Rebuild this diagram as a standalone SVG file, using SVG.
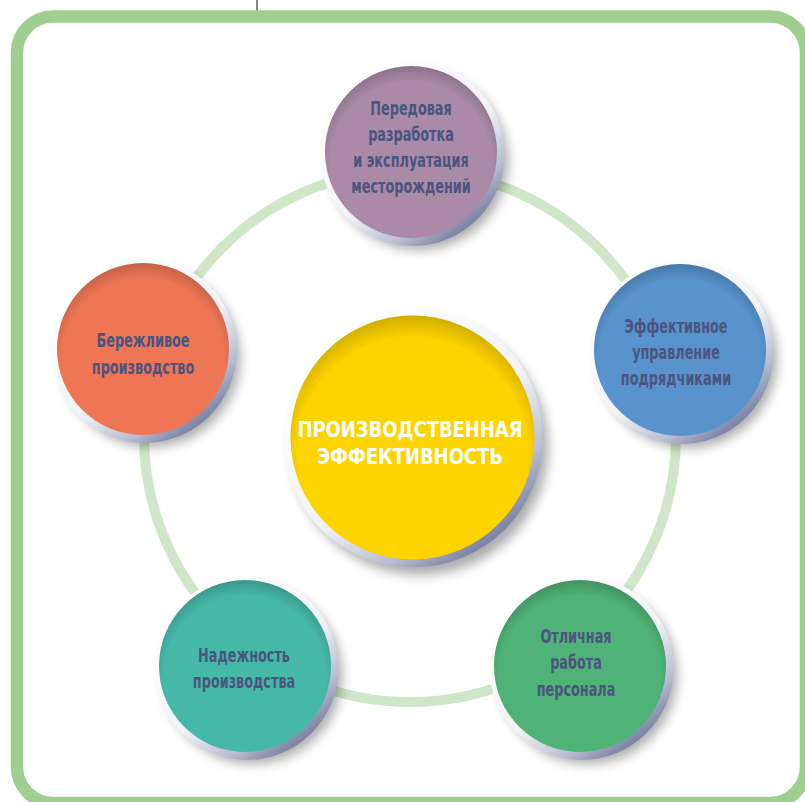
<svg xmlns="http://www.w3.org/2000/svg" width="805" height="802" viewBox="0 0 805 802">
  <defs>
    <linearGradient id="rim" x1="0.15" y1="0.1" x2="0.8" y2="0.95">
      <stop offset="0" stop-color="#ffffff"/>
      <stop offset="0.55" stop-color="#f2f3f7"/>
      <stop offset="0.8" stop-color="#b9bed2"/>
      <stop offset="1" stop-color="#6c7498"/>
    </linearGradient>
    <radialGradient id="inner" cx="0.5" cy="0.56" r="0.56">
      <stop offset="0.84" stop-color="#000" stop-opacity="0"/>
      <stop offset="1" stop-color="#000" stop-opacity="0.18"/>
    </radialGradient>
    <filter id="blur" x="-30%" y="-30%" width="160%" height="160%">
      <feGaussianBlur stdDeviation="6"/>
    </filter>
    <style>
      .frame { fill: #ffffff; stroke: #9ecf90; stroke-width: 12.5; }
      .ring { fill: none; stroke: #cfe7c8; stroke-width: 10; }
      .shadow { fill: #000; opacity: 0.33; filter: url(#blur); }
      .rim { fill: url(#rim); }
      .shade { fill: url(#inner); }
      .lbl { font-family: "DejaVu Sans Condensed", "DejaVu Sans", sans-serif; font-stretch: condensed; font-weight: bold; font-size: 19px; fill: #4b5580; text-anchor: middle; }
      .center { font-family: "DejaVu Sans Condensed", "DejaVu Sans", sans-serif; font-stretch: condensed; font-weight: bold; font-size: 21px; fill: #ffffff; text-anchor: middle; }
    </style>
  </defs>

  <line x1="257" y1="0" x2="257" y2="11" stroke="#333" stroke-width="1.2"/>
  <rect class="frame" x="17" y="16.5" width="789" height="786.5" rx="36" ry="36"/>

  <g id="connectors">
    <circle class="ring" cx="410" cy="436" r="266"/>
  </g>

  <g id="node-center">
    <circle class="shadow" cx="420" cy="447" r="128"/>
    <circle class="rim" cx="413" cy="437.5" r="130"/>
    <circle cx="412.5" cy="437.5" r="122" fill="#fdd300"/>
    <circle class="shade" cx="412.5" cy="437.5" r="122"/>
    <text class="center" transform="translate(410,437) scale(0.95,1)">ПРОИЗВОДСТВЕННАЯ</text>
    <text class="center" transform="translate(410,464) scale(0.95,1)">ЭФФЕКТИВНОСТЬ</text>
  </g>

  <g id="node-top" transform="translate(411,152)">
    <circle class="shadow" cx="8" cy="9" r="89"/>
    <circle class="rim" cx="1.5" cy="2" r="92"/>
    <circle cx="0" cy="0" r="86" fill="#aa8aa6"/>
    <circle class="shade" cx="0" cy="0" r="86"/>
    <text class="lbl" transform="translate(0,-37) scale(0.75,1)">Передовая</text>
    <text class="lbl" transform="translate(0,-11) scale(0.75,1)">разработка</text>
    <text class="lbl" transform="translate(0,15) scale(0.75,1)">и эксплуатация</text>
    <text class="lbl" transform="translate(0,41) scale(0.75,1)">месторождений</text>
  </g>

  <g id="node-right" transform="translate(680,350)">
    <circle class="shadow" cx="8" cy="9" r="89"/>
    <circle class="rim" cx="1.5" cy="2" r="92"/>
    <circle cx="0" cy="0" r="86" fill="#5893cd"/>
    <circle class="shade" cx="0" cy="0" r="86"/>
    <text class="lbl" transform="translate(-4,-17) scale(0.75,1)">Эффективное</text>
    <text class="lbl" transform="translate(-4,9) scale(0.75,1)">управление</text>
    <text class="lbl" transform="translate(-4,35) scale(0.75,1)">подрядчиками</text>
  </g>

  <g id="node-bottom-right" transform="translate(580,666)">
    <circle class="shadow" cx="8" cy="9" r="89"/>
    <circle class="rim" cx="1.5" cy="2" r="92"/>
    <circle cx="0" cy="0" r="86" fill="#4fb276"/>
    <circle class="shade" cx="0" cy="0" r="86"/>
    <text class="lbl" transform="translate(-4,-23) scale(0.75,1)">Отличная</text>
    <text class="lbl" transform="translate(-4,3) scale(0.75,1)">работа</text>
    <text class="lbl" transform="translate(-4,30) scale(0.75,1)">персонала</text>
  </g>

  <g id="node-bottom-left" transform="translate(245,666)">
    <circle class="shadow" cx="8" cy="9" r="89"/>
    <circle class="rim" cx="1.5" cy="2" r="92"/>
    <circle cx="0" cy="0" r="86" fill="#46b8a8"/>
    <circle class="shade" cx="0" cy="0" r="86"/>
    <text class="lbl" transform="translate(-1,-4) scale(0.75,1)">Надежность</text>
    <text class="lbl" transform="translate(-1,22) scale(0.75,1)">производства</text>
  </g>

  <g id="node-left" transform="translate(143,349)">
    <circle class="shadow" cx="8" cy="9" r="89"/>
    <circle class="rim" cx="1.5" cy="2" r="92"/>
    <circle cx="0" cy="0" r="86" fill="#ef7655"/>
    <circle class="shade" cx="0" cy="0" r="86"/>
    <text class="lbl" transform="translate(0,-2) scale(0.75,1)">Бережливое</text>
    <text class="lbl" transform="translate(0,25) scale(0.75,1)">производство</text>
  </g>
</svg>
